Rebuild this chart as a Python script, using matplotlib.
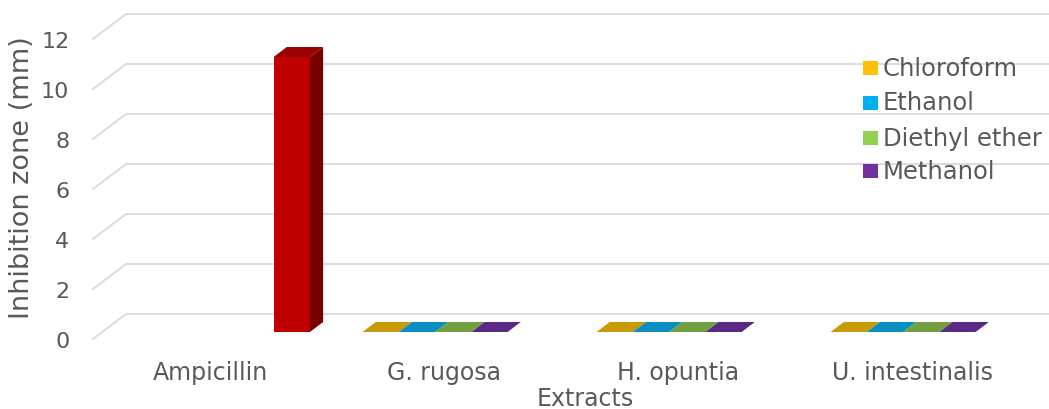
import matplotlib
matplotlib.use("Agg")
import matplotlib.pyplot as plt
from matplotlib.patches import Polygon, Rectangle

# ------------------------------------------------------------------------------
categories = ["Ampicillin", "G. rugosa", "H. opuntia", "U. intestinalis"]
series_names = ["Chloroform", "Ethanol", "Diethyl ether", "Methanol"]
chloroform = [None, 0, 0, 0]
ethanol = [None, 0, 0, 0]
diethyl_ether = [None, 0, 0, 0]
methanol = [None, 0, 0, 0]
ampicillin = [11, None, None, None]  # control, not in legend
yticks = [0, 2, 4, 6, 8, 10, 12]

# colours: (front, top, side)
colors = {
    "Chloroform": ("#FFC000", "#C99A08", "#A67E00"),
    "Ethanol": ("#00B0F0", "#0A8DC0", "#00759F"),
    "Diethyl ether": ("#92D050", "#72A040", "#5F8A33"),
    "Methanol": ("#7030A0", "#5A2885", "#4A1F6E"),
    "Ampicillin": ("#C00000", "#9A0000", "#7A0000"),
}
txt = "#595959"
grid_c = "#D9D9D9"

# geometry (pixels -> data)
XPX = 234.0   # pixels per category
YPX = 25.0    # pixels per unit
DX, DY = 33 / XPX, 25 / YPX  # full floor depth
f_front, f_back = 0.28, 0.68
bw = 0.155
gap = (1 - 5 * bw) / 2

fig = plt.figure(figsize=(10.49, 4.10), dpi=100)
ax = fig.add_axes([93 / 1049, 70 / 410, 936 / 1049, 300 / 410])
ax.set_xlim(-0.5, 3.5)
ax.set_ylim(0, 12)
for s in ax.spines.values():
    s.set_visible(False)

# gridlines: diagonal + back wall
for y in yticks:
    ax.plot([-0.5, -0.5 + DX, 3.5 + DX], [y, y + DY, y + DY], color=grid_c,
            lw=1.3, clip_on=False, zorder=0)

all_series = [chloroform, ethanol, diethyl_ether, methanol, ampicillin]
all_names = series_names + ["Ampicillin"]

for ci in range(len(categories)):
    for si, (vals, name) in enumerate(zip(all_series, all_names)):
        v = vals[ci]
        if v is None:
            continue
        front, top, side = colors[name]
        x0 = ci - 0.5 + gap + si * bw
        x1 = x0 + bw
        fx, fy = f_front * DX, f_front * DY
        bx, by = f_back * DX, f_back * DY
        if v > 0:
            ax.add_patch(Polygon([(x0 + fx, fy), (x1 + fx, fy), (x1 + fx, v + fy), (x0 + fx, v + fy)],
                                 closed=True, fc=front, ec="none", clip_on=False, zorder=3))
            ax.add_patch(Polygon([(x1 + fx, fy), (x1 + bx, by), (x1 + bx, v + by), (x1 + fx, v + fy)],
                                 closed=True, fc=side, ec="none", clip_on=False, zorder=3))
        ax.add_patch(Polygon([(x0 + fx, v + fy), (x1 + fx, v + fy), (x1 + bx, v + by), (x0 + bx, v + by)],
                             closed=True, fc=top, ec="none", clip_on=False, zorder=3))

ax.set_yticks(yticks)
ax.set_yticklabels([str(t) for t in yticks])
ax.set_xticks(range(len(categories)))
ax.set_xticklabels(categories)
ax.tick_params(axis="y", length=0, pad=17, labelsize=16, labelcolor=txt)
ax.tick_params(axis="x", length=0, pad=15, labelsize=17, labelcolor=txt)
for lbl in ax.get_yticklabels():
    lbl.set_va("center_baseline")

fig.text(22 / 1049, 1 - 178 / 410, "Inhibition zone (mm)", rotation=90, ha="center",
         va="center", fontsize=19.5, color=txt)
fig.text(585 / 1049, 1 - 406 / 410, "Extracts", ha="center", va="baseline",
         fontsize=17, color=txt)

# legend
leg_y = [69, 103.5, 139, 172]
for name, yy in zip(series_names, leg_y):
    fig.patches.append(Rectangle((863 / 1049, 1 - (yy + 7) / 410), 15 / 1049, 14 / 410,
                                 transform=fig.transFigure, fc=colors[name][0], ec="none"))
    fig.text(883 / 1049, 1 - yy / 410, name, ha="left", va="center", fontsize=17.5, color=txt)

fig.savefig("out.png", dpi=100)
